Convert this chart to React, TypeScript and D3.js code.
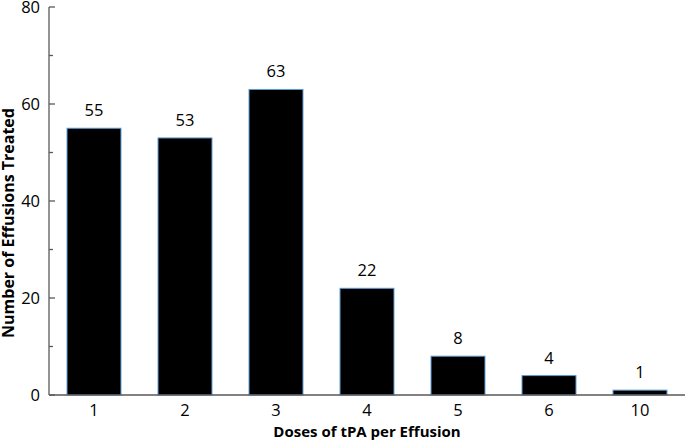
import React from "react";
import * as d3 from "d3";

const categories = ["1", "2", "3", "4", "5", "6", "10"];
const counts = [55, 53, 63, 22, 8, 4, 1];
const yMajorTicks = [0, 20, 40, 60, 80];
const yMinorTicks = [10, 30, 50, 70];

const W = 685;
const H = 442;
const FONT = "'Open Sans', 'Noto Sans', sans-serif";

export default function App() {
  const x = d3.scaleBand<string>().domain(categories).range([48.5, 685.5]).paddingInner(0.407).paddingOuter(0.2035);
  const y = d3.scaleLinear().domain([0, 80]).range([395, 7]);
  const axisColor = "#595959";
  return (
    <svg width={W} height={H} style={{ position: "absolute", left: 0, top: 0 }} fontFamily={FONT}>
      {categories.map((c, i) => (
        <g key={c}>
          <rect x={x(c)!} y={y(counts[i])} width={x.bandwidth()} height={y(0) - y(counts[i])} fill="#000" stroke="#5b9bd5" strokeWidth={1} />
          <text x={x(c)! + x.bandwidth() / 2} y={y(counts[i]) - 12} textAnchor="middle" fontSize={16.5} fill="#000">{counts[i]}</text>
          <text x={x(c)! + x.bandwidth() / 2} y={y(0) + 21} textAnchor="middle" fontSize={16.5} fill="#000">{c}</text>
        </g>
      ))}
      <line x1={49} x2={49} y1={y(80)} y2={y(0)} stroke={axisColor} strokeWidth={1.3} />
      <line x1={49} x2={W} y1={y(0)} y2={y(0)} stroke={axisColor} strokeWidth={1.3} />
      {yMajorTicks.map((t) => (
        <g key={t}>
          <line x1={49} x2={55} y1={y(t)} y2={y(t)} stroke={axisColor} strokeWidth={1.3} />
          <text x={40} y={y(t) + 6} textAnchor="end" fontSize={16.5} fill="#000">{t}</text>
        </g>
      ))}
      {yMinorTicks.map((t) => (
        <line key={t} x1={49} x2={53} y1={y(t)} y2={y(t)} stroke={axisColor} strokeWidth={1.3} />
      ))}
      <text x={367} y={437} textAnchor="middle" fontSize={15} fontWeight="bold" fill="#000">Doses of tPA per Effusion</text>
      <text transform={`translate(14, 223) rotate(-90)`} textAnchor="middle" fontSize={16} fontWeight="bold" fill="#000">Number of Effusions Treated</text>
    </svg>
  );
}
